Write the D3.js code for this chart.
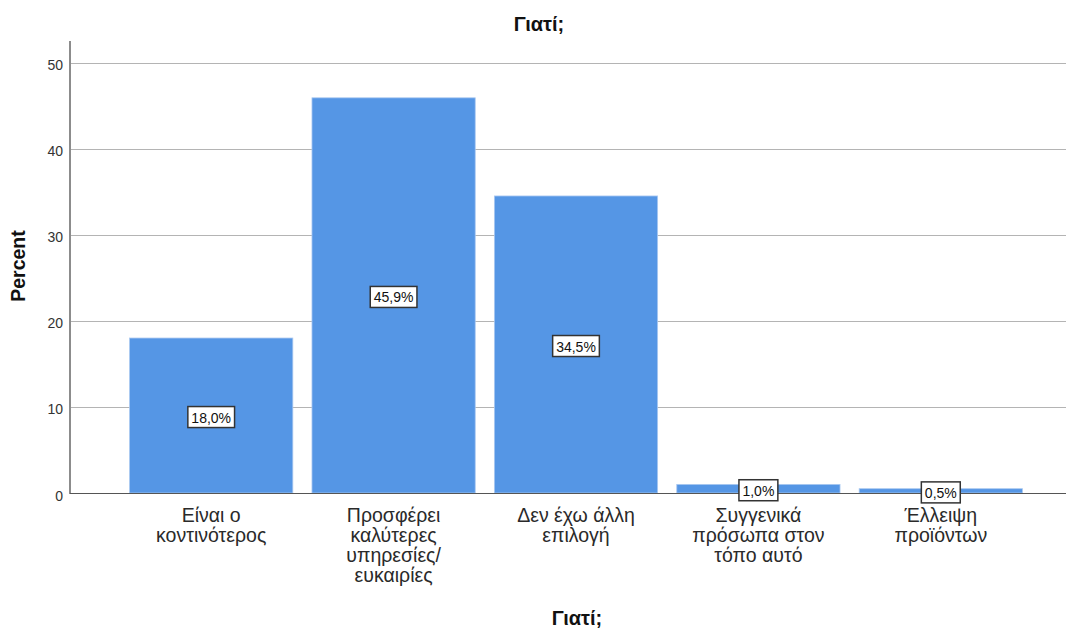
<!DOCTYPE html>
<html><head><meta charset="utf-8">
<script src="https://cdn.jsdelivr.net/npm/d3@7"></script>
<style>body{margin:0;background:#fff}svg{display:block;font-family:"Liberation Sans",Arial,sans-serif}</style>
</head><body><svg id="c" width="1071" height="628"></svg>
<script>
const categories = ["Είναι ο|κοντινότερος","Προσφέρει|καλύτερες|υπηρεσίες/|ευκαιρίες","Δεν έχω άλλη|επιλογή","Συγγενικά|πρόσωπα στον|τόπο αυτό","Έλλειψη|προϊόντων"];
const values = [18.0, 45.9, 34.5, 1.0, 0.5];
const valueLabels = ["18,0%","45,9%","34,5%","1,0%","0,5%"];
const yTicks = [0,10,20,30,40,50];
const title = "Γιατί;";
const xTitle = "Γιατί;";
const yTitle = "Percent";

(function(){
const svg = d3.select("#c");
const pLeft = 70, pRight = 1066, pTop = 41, pBottom = 493;
const x = d3.scaleBand().domain(categories).range([120, 1032]).paddingInner(0.105).paddingOuter(0.0525);
const y = d3.scaleLinear().domain([0, 52.5]).range([pBottom, pTop]);

// gridlines
svg.append("g").selectAll("line").data(yTicks.filter(d=>d>0)).join("line")
  .attr("x1", pLeft).attr("x2", pRight).attr("y1", d=>Math.round(y(d))+0.5).attr("y2", d=>Math.round(y(d))+0.5)
  .attr("stroke", "#b4b4b4").attr("stroke-width", 1);

// y axis
const ya = d3.axisLeft(y).tickValues(yTicks).tickSize(0).tickPadding(7);
const yg = svg.append("g").attr("transform", `translate(${pLeft},0)`).call(ya);
yg.select(".domain").remove();
yg.selectAll("text").attr("font-size", 14).attr("fill", "#333").attr("dy", "0.5em").attr("font-family","Liberation Sans, Arial, sans-serif");
svg.append("line").attr("x1", pLeft).attr("x2", pLeft).attr("y1", pTop).attr("y2", pBottom+1).attr("stroke", "#8c8c8c").attr("stroke-width", 2);

// bars
svg.append("g").selectAll("rect").data(values).join("rect")
  .attr("x", (d,i)=>x(categories[i])).attr("width", x.bandwidth())
  .attr("y", d=>y(d)).attr("height", d=>pBottom - y(d))
  .attr("fill", "#5596e5").attr("stroke", "#a9c8f0").attr("stroke-width", 0.8);

// x axis line
svg.append("line").attr("x1", pLeft).attr("x2", pRight).attr("y1", pBottom+0.5).attr("y2", pBottom+0.5).attr("stroke", "#555").attr("stroke-width", 1);

// value labels
const lg = svg.append("g").selectAll("g").data(values).join("g")
  .attr("transform", (d,i)=>`translate(${x(categories[i]) + x.bandwidth()/2},${y(d/2)+2})`);
lg.append("text").attr("text-anchor","middle").attr("dy","0.36em").attr("font-size",14).attr("fill","#111")
  .text((d,i)=>valueLabels[i]);
lg.each(function(){
  const g = d3.select(this); const b = g.select("text").node().getBBox();
  g.insert("rect","text").attr("x", b.x-3.5).attr("y", b.y-3).attr("width", b.width+7).attr("height", b.height+5)
   .attr("fill","#fff").attr("stroke","#333").attr("stroke-width",1.5);
});

// category labels
const cg = svg.append("g").selectAll("text").data(categories).join("text")
  .attr("x", d=>x(d)+x.bandwidth()/2).attr("y", 522).attr("text-anchor","middle")
  .attr("font-size", 19.5).attr("fill","#2a2a2a");
cg.each(function(d){
  const t = d3.select(this);
  d.split("|").forEach((line,i)=>{
    t.append("tspan").attr("x", x(d)+x.bandwidth()/2).attr("dy", i===0?0:20).text(line);
  });
});

// titles
svg.append("text").attr("x", 539).attr("y", 31).attr("text-anchor","middle").attr("font-size",20).attr("font-weight","bold").attr("fill","#111").text(title);
svg.append("text").attr("x", 577).attr("y", 625).attr("text-anchor","middle").attr("font-size",20).attr("font-weight","bold").attr("fill","#111").text(xTitle);
svg.append("text").attr("transform","translate(25,266) rotate(-90)").attr("text-anchor","middle").attr("font-size",19.5).attr("font-weight","bold").attr("fill","#111").text(yTitle);
})();
</script></body></html>
